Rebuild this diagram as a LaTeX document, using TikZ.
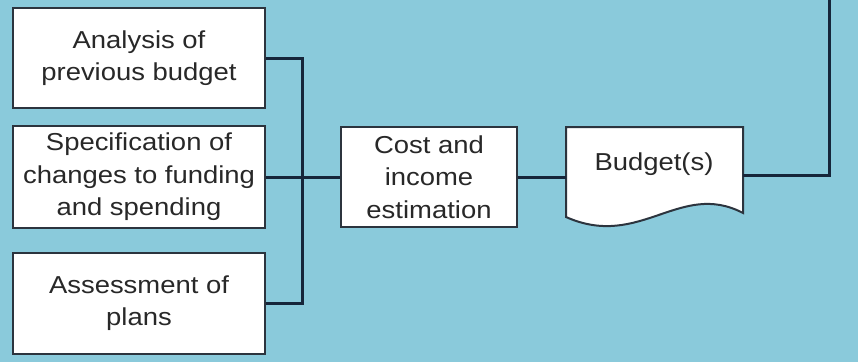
\documentclass[tikz,border=0pt]{standalone}
\usepackage{fontspec}
\setmainfont{Liberation Sans}[FakeStretch=1.12]
\begin{document}
\definecolor{bgblue}{RGB}{138,202,219}
\definecolor{wire}{RGB}{22,38,58}
\definecolor{edge}{RGB}{44,52,62}
\definecolor{ink}{RGB}{40,40,40}
\tikzset{
  stepbox/.style={draw=edge, line width=2pt, fill=white, text=ink,
    align=center, inner sep=0pt, font=\fontsize{24.5}{32.5}\selectfont},
  link/.style={draw=wire, line width=3pt, line join=miter},
}
\begin{tikzpicture}[x=1pt, y=-1pt]
  % canvas
  \fill[bgblue] (0,0) rectangle (858,362);
  \useasboundingbox (0,0) rectangle (858,362);

  % input boxes
  \node[stepbox, minimum width=252pt, minimum height=100pt] (prev) at (139,58)
    {Analysis of\\previous budget};
  \node[stepbox, minimum width=252pt, minimum height=102pt] (spec) at (139,177)
    {Specification of\\changes to funding\\and spending};
  \node[stepbox, minimum width=252pt, minimum height=101pt] (plans) at (139,303)
    {Assessment of\\plans};

  % estimation step
  \node[stepbox, minimum width=176pt, minimum height=100pt] (cost) at (429,177)
    {Cost and\\income\\estimation};

  % document symbol with wavy lower edge
  \draw[edge, line width=2pt, fill=white]
    (566,127) -- (743,127) -- (743,213)
    .. controls (680,180) and (640,250) .. (566,217) -- cycle;
  \node[text=ink, font=\fontsize{24.5}{32.5}\selectfont] (budgettxt) at (654,164) {Budget(s)};
  \node[minimum width=177pt, minimum height=96pt, inner sep=0pt] (budget) at (654.5,175) {};

  % bus gathering the three inputs
  \coordinate (bus) at (302,177);
  \coordinate (top) at (829,0);
  \draw[link] (prev.east) -- (bus |- prev.east) -- (bus |- plans.east) -- (plans.east);
  \draw[link] (spec.east) -- (cost.west);
  \draw[link] (cost.east) -- (cost.east -| budget.west);
  \draw[link] (budget.east) -- (top |- budget.east) -- (top);
\end{tikzpicture}
\end{document}
